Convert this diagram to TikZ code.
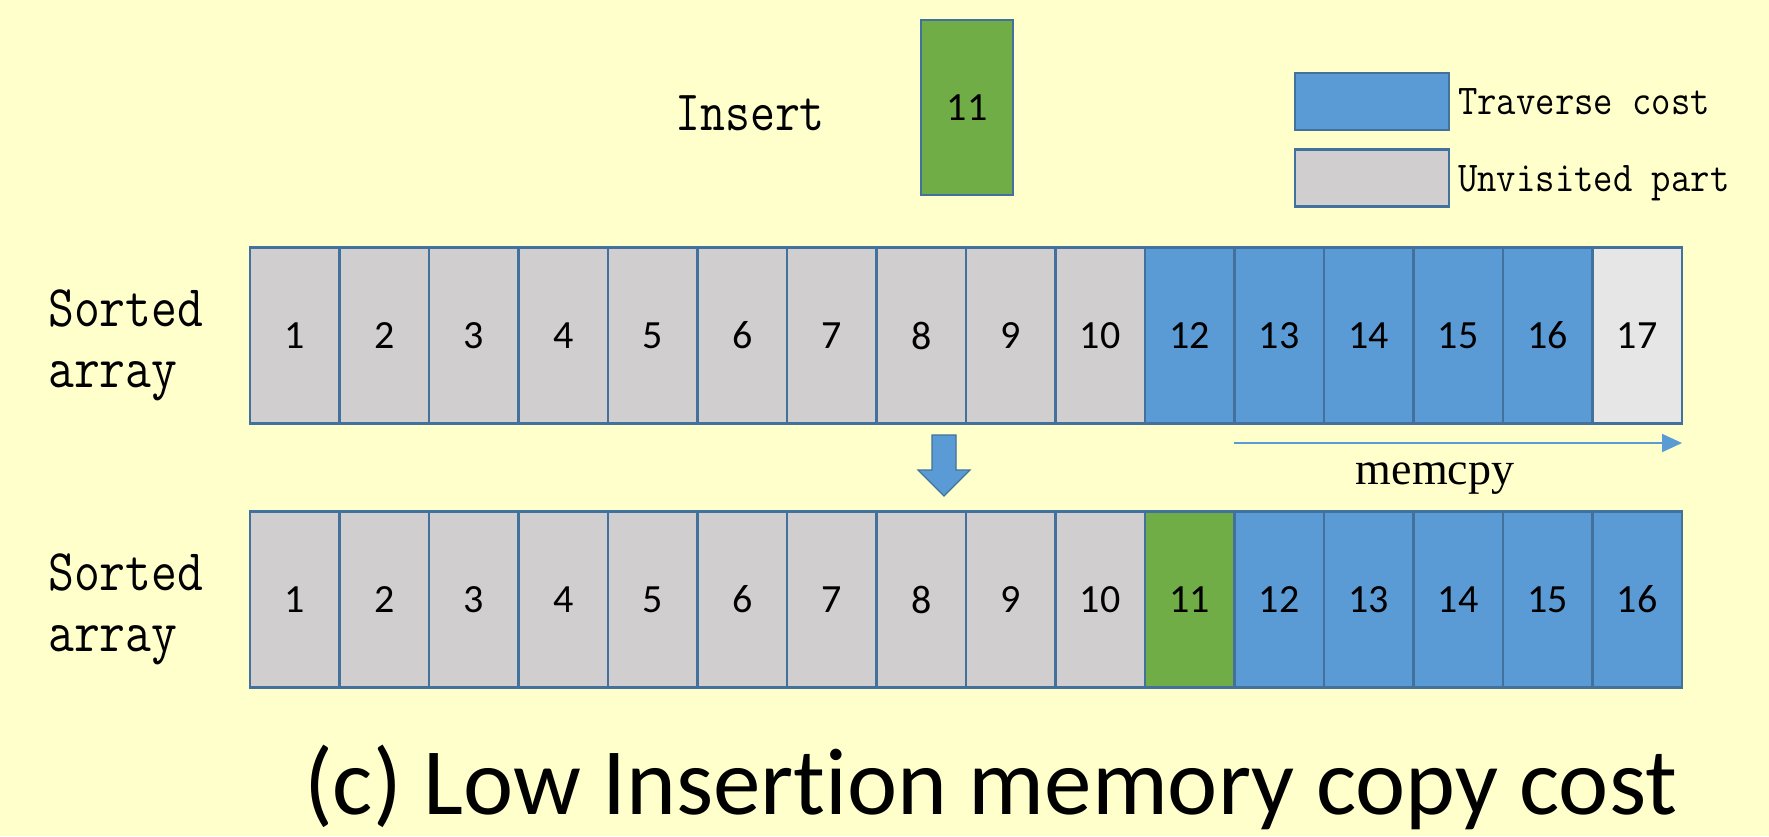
\documentclass[tikz,border=0pt]{standalone}
\usepackage{fontspec}
\newfontfamily\calib[Ligatures={NoCommon}]{Carlito}
\newfontfamily\timesf{Liberation Serif}
\usetikzlibrary{arrows.meta}
\definecolor{bg}{HTML}{FFFFCC}
\definecolor{cgray}{HTML}{D0CECE}
\definecolor{clight}{HTML}{E7E6E6}
\definecolor{cblue}{HTML}{5B9BD5}
\definecolor{cgreen}{HTML}{70AD47}
\definecolor{cedge}{HTML}{41719C}
\newcommand\simtxt[2]{\scalebox{#1}[1]{\ttfamily #2}}
\tikzset{
  cell/.style={draw=cedge, line width=2.5pt, minimum width=89.5pt, minimum height=176pt,
    inner sep=0pt, font=\calib\fontsize{40}{48}\selectfont},
  graycell/.style={cell, fill=cgray},
  bluecell/.style={cell, fill=cblue},
  greencell/.style={cell, fill=cgreen},
  lightcell/.style={cell, fill=clight},
  simlabel/.style={anchor=base west, inner sep=0pt, font=\fontsize{59}{59}\selectfont},
  legbox/.style={draw=cedge, line width=2.5pt, minimum width=154pt, minimum height=57pt, inner sep=0pt},
  legtext/.style={anchor=base west, inner sep=0pt, font=\fontsize{42.5}{42.5}\selectfont},
}
\begin{document}
\begin{tikzpicture}[x=1pt,y=-1pt]
\useasboundingbox[fill=bg] (0,0) rectangle (1769,836);
% top row
\foreach \i/\v/\s in {1/1/graycell,2/2/graycell,3/3/graycell,4/4/graycell,5/5/graycell,6/6/graycell,7/7/graycell,8/8/graycell,9/9/graycell,10/10/graycell,11/12/bluecell,12/13/bluecell,13/14/bluecell,14/15/bluecell,15/16/bluecell,16/17/lightcell}
  \node[\s] (t\i) at ({250+89.5*(\i-0.5)},335.5) {\v};
% bottom row
\foreach \i/\v/\s in {1/1/graycell,2/2/graycell,3/3/graycell,4/4/graycell,5/5/graycell,6/6/graycell,7/7/graycell,8/8/graycell,9/9/graycell,10/10/graycell,11/11/greencell,12/12/bluecell,13/13/bluecell,14/14/bluecell,15/15/bluecell,16/16/bluecell}
  \node[\s] (b\i) at ({250+89.5*(\i-0.5)},599.5) {\v};
% labels
\node[simlabel] (s1a) at (48,326) {\simtxt{0.85}{Sorted}};
\node[simlabel] (s1b) at (48,387) {\simtxt{0.85}{array}};
\node[simlabel] (s2a) at (48,590) {\simtxt{0.85}{Sorted}};
\node[simlabel] (s2b) at (48,651) {\simtxt{0.85}{array}};
% insert
\node[simlabel, font=\fontsize{57}{57}\selectfont] (ins) at (675,130) {\simtxt{0.85}{Insert}};
\node[cell, fill=cgreen, minimum width=92pt, minimum height=175pt] (new) at (967,107.5) {11};
% legend
\node[legbox, fill=cblue] (lb) at (1372,101.3) {};
\node[legbox, fill=cgray] (lg) at (1372,177.8) {};
\node[legtext] (lbt) at (1458,114) {\simtxt{0.885}{Traverse cost}};
\node[legtext] (lgt) at (1458,191.7) {\simtxt{0.885}{Unvisited part}};
% down arrow
\draw[fill=cblue, draw=cedge, line width=1.2pt, line join=miter]
  (932,435) -- (956,435) -- (956,470) -- (970,470) -- (944,496) -- (918,470) -- (932,470) -- cycle;
% memcpy
\coordinate (m0) at (1234,443);
\coordinate (m1) at (1682,443);
\draw[cblue, line width=2pt, -{Triangle[length=20pt,width=18pt]}] (m0) -- (m1);
\node[anchor=base, inner sep=0pt, font=\timesf\fontsize{46}{46}\selectfont] (mc) at (1435,484) {memcpy};
% title
\node[anchor=base west, inner sep=0pt, font=\calib\fontsize{95}{95}\selectfont] (title) at (304,814) {(c) Low Insertion memory copy cost};
\end{tikzpicture}
\end{document}
